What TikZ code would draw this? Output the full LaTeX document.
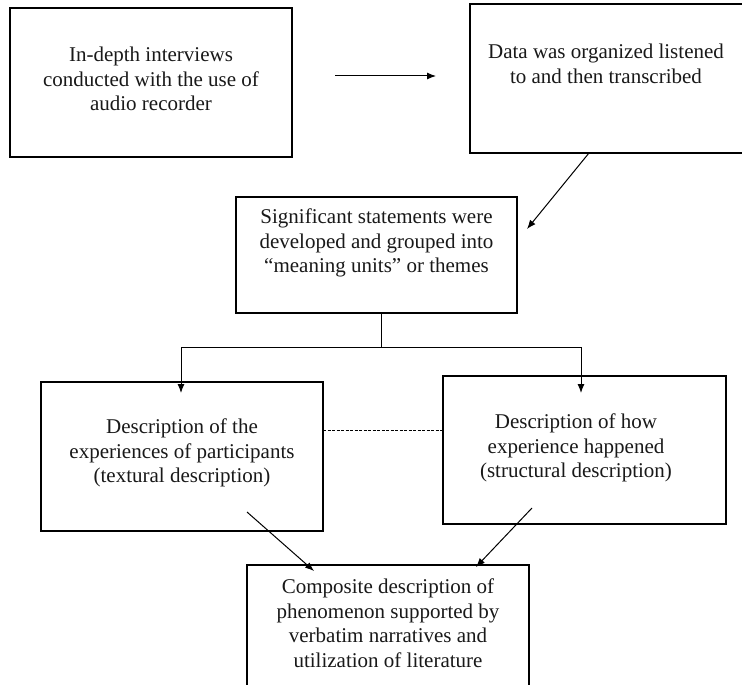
\documentclass[tikz,border=0pt]{standalone}
\usepackage{fontspec}
\setmainfont{Liberation Serif}
\usetikzlibrary{arrows.meta}
\tikzset{
  box/.style={draw=black, line width=1.2pt, fill=none, inner sep=0pt, outer sep=0pt},
  txt/.style={align=center, inner sep=0pt, text=black!90, font=\fontsize{21}{24.5}\selectfont},
  conn/.style={draw=black, line width=1pt},
  arr/.style={conn, -{Latex[length=9pt,width=7pt]}},
  dashline/.style={draw=black, line width=1pt, dash pattern=on 3pt off 1.5pt}
}
\begin{document}
\begin{tikzpicture}[x=1pt,y=-1pt]
\useasboundingbox (0,0) rectangle (742,685);
\fill[white] (0,0) rectangle (742,685);
\clip (0,0) rectangle (742,685);
% boxes
\node[box, minimum width=282pt, minimum height=149pt] (b1) at (151,82.5) {};
\node[box, minimum width=280pt, minimum height=149pt] (b2) at (610,78.5) {};
\node[box, minimum width=281pt, minimum height=116pt] (b3) at (376.5,255) {};
\node[box, minimum width=282pt, minimum height=149pt] (b4) at (182,456.5) {};
\node[box, minimum width=283pt, minimum height=148pt] (b5) at (584.5,450) {};
\node[box, minimum width=282pt, minimum height=140pt] (b6) at (388,635) {};
% texts
\node[txt] (t1) at (151,79) {In-depth interviews\\conducted with the use of\\audio recorder};
\node[txt] (t2) at (606,64) {Data was organized listened\\to and then transcribed};
\node[txt] (t3) at (376.5,243) {Significant statements were\\developed and grouped into\\``meaning units'' or themes};
\node[txt] (t4) at (182,453) {Description of the\\experiences of participants\\(textural description)};
\node[txt] (t5) at (576,448) {Description of how\\experience happened\\(structural description)};
\node[txt] (t6) at (388,623) {Composite description of\\phenomenon supported by\\verbatim narratives and\\utilization of literature};
% connector points
\coordinate (a1s) at (335,76);
\coordinate (a1e) at (436,76);
\coordinate (a2s) at (589,153);
\coordinate (a2e) at (527,229);
\coordinate (jt) at (381,313);
\coordinate (jm) at (381,347);
\coordinate (jl) at (181,347);
\coordinate (jr) at (581,347);
\coordinate (al) at (181,393);
\coordinate (ar) at (581,393);
\coordinate (d1) at (323,430);
\coordinate (d2) at (443,430);
\coordinate (b4s) at (247,512);
\coordinate (b4e) at (314,571);
\coordinate (b5s) at (532,508);
\coordinate (b5e) at (476,567);
% connectors
\draw[arr] (a1s) -- (a1e);
\draw[arr] (a2s) -- (a2e);
\draw[conn] (jt) -- (jm);
\draw[conn] (jl) -- (jr);
\draw[arr] (jl) -- (al);
\draw[arr] (jr) -- (ar);
\draw[dashline] (d1) -- (d2);
\draw[arr] (b4s) -- (b4e);
\draw[arr] (b5s) -- (b5e);
\end{tikzpicture}
\end{document}
